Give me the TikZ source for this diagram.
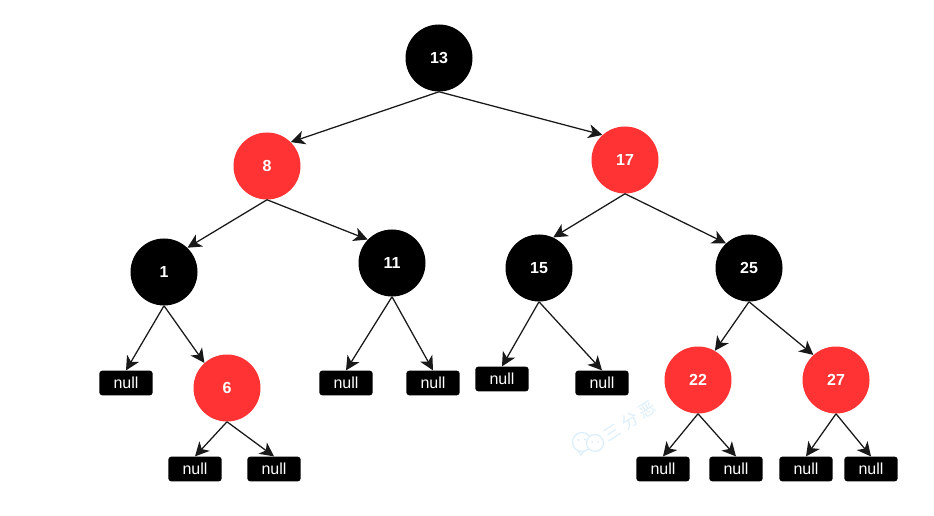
\documentclass[tikz,border=0pt]{standalone}
\usepackage{fontspec}
\setmainfont{Liberation Sans}
\newfontfamily\cjkfont{Noto Sans CJK SC}
\usetikzlibrary{arrows.meta}
\definecolor{rbred}{HTML}{FF3333}
\definecolor{markblue}{HTML}{DCEEFA}
\tikzset{
  tree/.style={x=0.75pt,y=-0.75pt},
  keynode/.style={circle,minimum size=50.25pt,inner sep=0pt,text=white,font=\fontsize{12}{14}\selectfont\bfseries},
  blacknode/.style={keynode,fill=black},
  rednode/.style={keynode,fill=rbred},
  nullnode/.style={rectangle,rounded corners=2.2pt,fill=black,text=white,minimum width=40pt,minimum height=18.5pt,inner sep=0pt,font=\fontsize{12}{14}\selectfont},
  link/.style={draw=black!90,line width=0.95pt,-{Stealth[length=10.5pt,width=10.5pt,inset=3pt]}}
}
\begin{document}
\begin{tikzpicture}[tree]
\useasboundingbox (0,0) rectangle (934,516);

% keyed nodes
\node[blacknode] (n13) at (439,58) {13};
\node[rednode]   (n8)  at (267,166) {8};
\node[rednode]   (n17) at (625,160) {17};
\node[blacknode] (n1)  at (164,272) {1};
\node[blacknode] (n11) at (392,263) {11};
\node[blacknode] (n15) at (539,268) {15};
\node[blacknode] (n25) at (749,268) {25};
\node[rednode]   (n6)  at (227,388) {6};
\node[rednode]   (n22) at (698,380) {22};
\node[rednode]   (n27) at (836,380) {27};

% null leaves
\node[nullnode] (a) at (126,383) {null};
\node[nullnode] (b) at (346,383) {null};
\node[nullnode] (c) at (433,383) {null};
\node[nullnode] (d) at (502,379) {null};
\node[nullnode] (e) at (602,383) {null};
\node[nullnode] (f) at (195,469) {null};
\node[nullnode] (g) at (274,469) {null};
\node[nullnode] (h) at (663,469) {null};
\node[nullnode] (i) at (736,469) {null};
\node[nullnode] (j) at (806,469) {null};
\node[nullnode] (k) at (871,469) {null};

% tree edges: each one lands on the upper rim of its child
\foreach \p/\q/\ang in {n13/n8/45,n13/n17/132,n8/n1/46,n8/n11/136,n17/n15/65,n17/n25/133,n1/n6/132,n25/n22/60,n25/n27/132}
  \draw[link] (\p.south) -- (\q.\ang);
\foreach \p/\q in {n1/a,n11/b,n11/c,n15/d,n15/e,n6/f,n6/g,n22/h,n22/i,n27/j,n27/k}
  \draw[link] (\p.south) -- (\q.north);

% faint logo and signature
\begin{scope}[draw=markblue,line width=0.9pt]
  \draw (582,442) circle (9.5);
  \draw[fill=white] (595,443) circle (8.5);
  \draw (578,451) -- (581,455) -- (584,451);
  \fill[markblue] (578.5,440) circle (1.1) (585,439.5) circle (1.1) (592,442) circle (1) (598,442) circle (1);
\end{scope}
\node[text=markblue,rotate=33,inner sep=0pt,font=\cjkfont\fontsize{12.5}{14}\selectfont\addfontfeature{LetterSpace=25}] (mark) at (630,421) {三分恶};
\end{tikzpicture}
\end{document}
